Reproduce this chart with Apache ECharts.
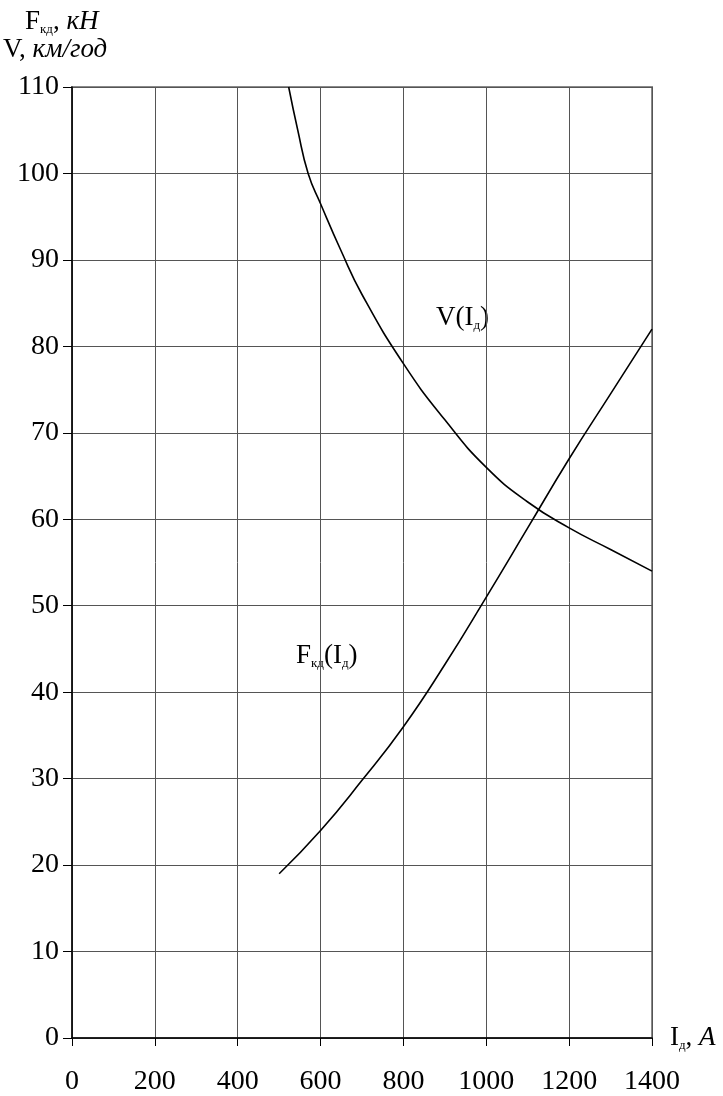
<!DOCTYPE html>
<html>
<head>
<meta charset="utf-8">
<script src="https://cdn.jsdelivr.net/npm/echarts@6/dist/echarts.min.js"></script>
<style>html,body{margin:0;padding:0;background:#fff;}#c{width:723px;height:1096px;}</style>
</head>
<body>
<div id="c"></div>
<script>
// Data
var xTicks = [0, 200, 400, 600, 800, 1000, 1200, 1400];
var yTicks = [0, 10, 20, 30, 40, 50, 60, 70, 80, 90, 100, 110];
var currentV = [523, 545, 570, 600, 650, 700, 800, 900, 1000, 1100, 1200, 1300, 1400];
var speedV   = [110, 105, 100, 96.5, 91, 86, 78, 71.5, 66, 62, 59, 56.5, 54];
var currentF = [500, 600, 700, 800, 900, 1000, 1100, 1200, 1300, 1400];
var forceF   = [19, 24, 29.8, 36, 43.2, 51, 59, 67, 74.5, 82];

var FONT = '"Liberation Serif", "DejaVu Serif", serif';
var chart = echarts.init(document.getElementById('c'), null, {renderer: 'canvas'});

function pairs(xs, ys) { return xs.map(function (x, i) { return [x, ys[i]]; }); }

var richBase = {
  m: {fontFamily: FONT, fontSize: 27, color: '#000', lineHeight: 30},
  i: {fontFamily: FONT, fontSize: 27, fontStyle: 'italic', color: '#000', lineHeight: 30},
  s: {fontFamily: FONT, fontSize: 13, color: '#000', lineHeight: 14, verticalAlign: 'bottom'}
};

chart.setOption({
  animation: false,
  backgroundColor: '#fff',
  grid: {left: 72, top: 87, right: 71, bottom: 57, show: true, borderColor: '#8a8a8a', borderWidth: 2, containLabel: false},
  xAxis: {
    type: 'value', min: xTicks[0], max: xTicks[xTicks.length - 1], interval: 200,
    axisLine: {show: true, lineStyle: {color: '#000', width: 1.5}},
    axisTick: {show: true, length: 8, lineStyle: {color: '#000', width: 1}},
    axisLabel: {color: '#000', fontFamily: FONT, fontSize: 28, margin: 30, formatter: function (v) { return String(v); }},
    splitLine: {show: true, lineStyle: {color: '#555', width: 1}}
  },
  yAxis: {
    type: 'value', min: yTicks[0], max: yTicks[yTicks.length - 1], interval: 10,
    axisLine: {show: true, lineStyle: {color: '#000', width: 1.5}},
    axisTick: {show: true, length: 9, lineStyle: {color: '#000', width: 1}},
    axisLabel: {color: '#000', fontFamily: FONT, fontSize: 28, margin: 13, formatter: function (v) { return String(v); }},
    splitLine: {show: true, lineStyle: {color: '#555', width: 1}}
  },
  series: [
    {type: 'line', name: 'V', data: pairs(currentV, speedV), smooth: 0.5, showSymbol: false,
     lineStyle: {color: '#000', width: 1.6}, clip: true},
    {type: 'line', name: 'F', data: pairs(currentF, forceF), smooth: 0.5, showSymbol: false,
     lineStyle: {color: '#000', width: 1.6}, clip: true}
  ],
  graphic: [
    {type: 'text', left: 25, top: 8, style: {text: '{m|F}{s|кд}{m|, }{i|кН}', rich: richBase}},
    {type: 'text', left: 3, top: 36, style: {text: '{m|V, }{i|км/год}', rich: richBase}},
    {type: 'text', left: 670, top: 1024, style: {text: '{m|I}{s|д}{m|, }{i|A}', rich: richBase}},
    {type: 'text', left: 436, top: 304, style: {text: '{m|V(I}{s|д}{m|)}', rich: richBase}},
    {type: 'text', left: 296, top: 642, style: {text: '{m|F}{s|кд}{m|(I}{s|д}{m|)}', rich: richBase}}
  ]
});
</script>
</body>
</html>
